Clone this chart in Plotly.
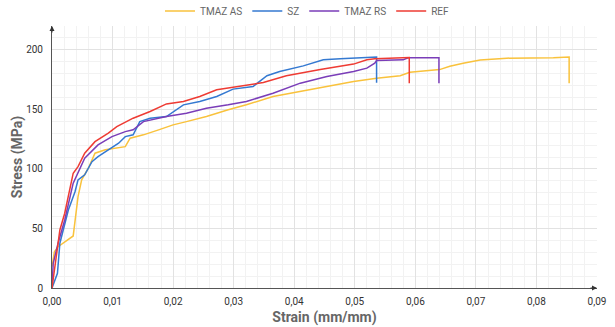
import plotly.graph_objects as go

# TMAZ AS (yellow)
as_strain = [0, 0.0004, 0.001, 0.0035, 0.0043, 0.0049, 0.006, 0.0071, 0.0088, 0.0121, 0.0129, 0.0151,
             0.0176, 0.02, 0.0222, 0.0255, 0.0291, 0.0321, 0.0365, 0.041, 0.0454, 0.0498, 0.0536, 0.0575,
             0.0591, 0.064, 0.0657, 0.0679, 0.0707, 0.0751, 0.0828, 0.0854, 0.0854]
as_stress = [18, 30.5, 34.7, 43.7, 76.7, 90.8, 100.6, 113.2, 116, 118.7, 125.8, 128.6,
             132.8, 137, 139.7, 144, 149.6, 153.8, 160.8, 165, 169.2, 173.4, 176.2, 178.2,
             181.2, 183.4, 186.2, 188.8, 191.4, 193, 193.4, 193.9, 172]

# SZ (blue)
sz_strain = [0, 0.0009, 0.0013, 0.0027, 0.0038, 0.0043, 0.0054, 0.0066, 0.0076, 0.0093, 0.011, 0.0121,
             0.0134, 0.0145, 0.0162, 0.0189, 0.0206, 0.0217, 0.0244, 0.0272, 0.0299, 0.0332, 0.0355,
             0.0376, 0.0415, 0.0432, 0.0448, 0.0476, 0.052, 0.0536, 0.0536]
sz_stress = [0, 12.3, 37.6, 65.5, 80.9, 90.8, 95, 106.1, 110.3, 116, 121.6, 127.1,
             128.6, 139.7, 142.6, 144, 149.6, 153.8, 156.6, 160.8, 167, 169.2, 178.2,
             181.8, 186.5, 188.8, 191.6, 192.4, 193.9, 193.9, 172.3]

# TMAZ RS (purple)
rs_strain = [0, 0.0002, 0.001, 0.0021, 0.0035, 0.0043, 0.0054, 0.0076, 0.0099, 0.0121, 0.0134, 0.0151,
             0.0189, 0.0222, 0.0255, 0.0291, 0.0321, 0.0365, 0.041, 0.0454, 0.0498, 0.052, 0.0533,
             0.0536, 0.058, 0.0588, 0.0639, 0.0639]
rs_stress = [0, 20.7, 37.6, 57.1, 88, 96.4, 109, 120.2, 127.1, 131.3, 132.8, 139.7,
             144, 146.8, 151, 153.8, 156.6, 163.6, 172, 177.6, 181.8, 184.6, 188.8,
             191, 191.6, 193.3, 193.3, 172]

# REF (red)
ref_strain = [0, 0.0005, 0.0013, 0.0021, 0.0027, 0.0035, 0.0043, 0.0054, 0.0071, 0.0093, 0.0107, 0.0134,
              0.0162, 0.0189, 0.0217, 0.0244, 0.0272, 0.031, 0.0349, 0.0387, 0.0443, 0.0498, 0.052,
              0.0533, 0.059, 0.059]
ref_stress = [0, 17.9, 48.7, 62.8, 76.7, 96.4, 101.9, 113.2, 122.9, 130, 135.5, 142.6,
              148.2, 154.6, 156.6, 160.8, 166.4, 169.2, 172.5, 178.2, 183.5, 188, 191.6,
              192.4, 193.5, 172]

series = [
    ("TMAZ AS", as_strain, as_stress, "#F9C23C"),
    ("SZ", sz_strain, sz_stress, "#3479D1"),
    ("TMAZ RS", rs_strain, rs_stress, "#7A3DB8"),
    ("REF", ref_strain, ref_stress, "#EE3B33"),
]

fig = go.Figure()
for name, xs, ys, col in series:
    fig.add_trace(go.Scatter(x=xs, y=ys, mode="lines", name=name,
                             line=dict(color=col, width=1.5)))

fig.update_layout(
    width=615, height=327,
    margin=dict(l=52, r=18, t=26, b=39, autoexpand=False),
    paper_bgcolor="white", plot_bgcolor="white",
    separators=", ",
    font=dict(family="Roboto, Arial, sans-serif", size=10, color="#333"),
    showlegend=True,
    legend=dict(orientation="h", x=0.5, xanchor="center", xref="container",
                y=1 - 11 / 327, yanchor="middle", yref="container",
                font=dict(size=10, color="#666"), itemwidth=30, tracegroupgap=0),
)
fig.update_xaxes(range=[0, 0.09], dtick=0.01, tickformat=".2f", automargin=False,
                 showgrid=True, gridcolor="#E2E2E2", gridwidth=1,
                 minor=dict(dtick=0.002, showgrid=True, gridcolor="#F2F2F2"),
                 showline=True, linecolor="#555", linewidth=1, zeroline=False,
                 ticks="", ticklabelstandoff=4, tickfont=dict(size=10, color="#333"),
                 title=dict(text="<b>Strain (mm/mm)</b>", font=dict(size=14, color="#666"), standoff=6))
fig.update_yaxes(range=[0, 220], dtick=50, automargin=False,
                 showgrid=True, gridcolor="#E2E2E2", gridwidth=1,
                 minor=dict(dtick=10, showgrid=True, gridcolor="#F2F2F2"),
                 showline=True, linecolor="#555", linewidth=1, zeroline=False,
                 ticks="", ticklabelstandoff=6, tickfont=dict(size=10, color="#333"),
                 title=dict(text="<b>Stress (MPa)</b>", font=dict(size=14, color="#666"), standoff=0))

# axis arrows
fig.add_annotation(x=0, y=220, xref="x", yref="y", ax=0, ay=8,
                   text="", showarrow=True, arrowhead=2, arrowsize=1, arrowwidth=1, arrowcolor="#333")
fig.add_annotation(x=0.09, y=0, xref="x", yref="y", ax=-8, ay=0,
                   text="", showarrow=True, arrowhead=2, arrowsize=1, arrowwidth=1, arrowcolor="#333")

fig.write_html("out.html")
